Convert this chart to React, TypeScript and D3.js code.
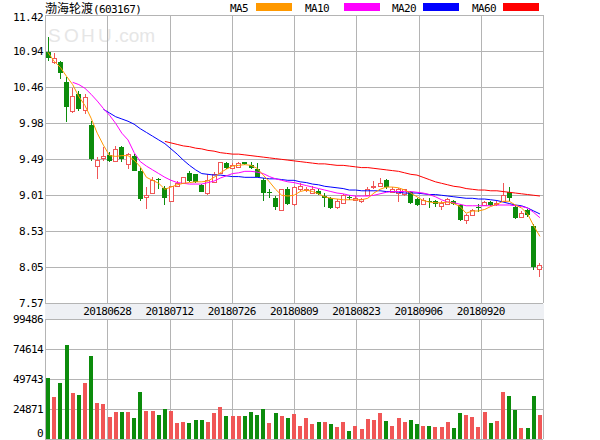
import React from 'react';
import * as d3 from 'd3';

const title = '渤海轮渡';
const code = '(603167)';
const priceTicks = ['11.42', '10.94', '10.46', '9.98', '9.49', '9.01', '8.53', '8.05', '7.57'];
const volTicks = ['99486', '74614', '49743', '24871', '0'];
const dateLabels = ['20180628', '20180712', '20180726', '20180809', '20180823', '20180906', '20180920'];
const maNames = ['MA5', 'MA10', 'MA20', 'MA60'];
const maColors = ['#ff9900', '#ff00ff', '#0000ff', '#ff0000'];

const open = [10.92, 10.79, 10.79, 10.52, 10.13, 10.36, 10.15, 9.95, 9.40, 9.51,
  9.55, 9.47, 9.66, 9.43, 9.54, 9.34, 8.99, 9.04, 9.23, 9.11,
  8.94, 9.13, 9.17, 9.31, 9.29, 9.15, 9.04, 9.19, 9.31, 9.44,
  9.37, 9.39, 9.45, 9.42, 9.36, 9.22, 9.06, 8.97, 8.81, 9.10,
  8.90, 9.09, 9.08, 9.04, 9.07, 9.00, 8.97, 8.85, 8.91, 8.99,
  8.95, 8.94, 9.01, 9.12, 9.13, 9.21, 9.06, 9.04, 9.03, 9.06,
  8.96, 8.90, 8.94, 8.93, 8.87, 8.90, 8.94, 8.88, 8.68, 8.75,
  8.86, 8.88, 8.92, 8.89, 8.94, 9.05, 8.86, 8.72, 8.81, 8.60, 8.02];
const high = [11.12, 10.91, 10.81, 10.59, 10.45, 10.40, 10.36, 10.00, 9.52, 9.66,
  9.59, 9.67, 9.67, 9.58, 9.56, 9.38, 9.12, 9.25, 9.24, 9.14,
  9.14, 9.20, 9.25, 9.33, 9.30, 9.16, 9.30, 9.32, 9.46, 9.46,
  9.44, 9.46, 9.46, 9.45, 9.44, 9.24, 9.10, 9.00, 9.10, 9.12,
  9.13, 9.17, 9.12, 9.13, 9.09, 9.04, 8.99, 8.96, 9.03, 9.02,
  9.00, 8.98, 9.12, 9.20, 9.24, 9.23, 9.12, 9.11, 9.10, 9.07,
  8.98, 8.97, 8.97, 8.95, 8.93, 8.98, 8.95, 8.89, 8.76, 8.82,
  8.89, 8.94, 8.94, 8.93, 9.17, 9.12, 8.88, 8.80, 8.83, 8.62, 8.11];
const low = [10.81, 10.76, 10.56, 9.99, 10.11, 10.14, 10.10, 9.47, 9.23, 9.47,
  9.45, 9.47, 9.45, 9.36, 9.33, 8.94, 8.82, 9.03, 9.10, 8.88,
  8.94, 9.12, 9.17, 9.19, 9.18, 9.05, 9.02, 9.18, 9.31, 9.36,
  9.36, 9.38, 9.42, 9.36, 9.25, 8.94, 8.97, 8.81, 8.80, 8.88,
  8.87, 9.07, 9.05, 9.03, 9.02, 8.85, 8.83, 8.83, 8.90, 8.95,
  8.93, 8.91, 9.00, 9.10, 9.12, 9.10, 9.05, 8.92, 9.00, 8.90,
  8.87, 8.88, 8.84, 8.85, 8.81, 8.89, 8.88, 8.66, 8.63, 8.74,
  8.79, 8.87, 8.87, 8.87, 8.92, 8.93, 8.69, 8.71, 8.72, 8.01, 7.92];
const close = [10.84, 10.84, 10.65, 10.19, 10.34, 10.16, 10.33, 9.49, 9.48, 9.53,
  9.47, 9.63, 9.49, 9.56, 9.34, 8.96, 9.02, 9.22, 9.21, 8.98,
  9.13, 9.18, 9.25, 9.20, 9.19, 9.06, 9.22, 9.30, 9.45, 9.37,
  9.42, 9.44, 9.43, 9.37, 9.26, 9.04, 9.04, 8.86, 9.09, 8.90,
  9.12, 9.13, 9.10, 9.10, 9.03, 8.98, 8.84, 8.94, 9.01, 8.97,
  8.97, 8.96, 9.10, 9.14, 9.18, 9.12, 9.10, 9.09, 9.09, 8.91,
  8.88, 8.95, 8.92, 8.90, 8.91, 8.96, 8.89, 8.68, 8.75, 8.81,
  8.84, 8.92, 8.88, 8.91, 9.01, 8.97, 8.70, 8.77, 8.75, 8.05, 8.08];
const volume = [50800, 35000, 46700, 77900, 38400, 36500, 46700, 68800, 30100, 29300,
  18000, 22400, 22400, 22400, 17600, 39200, 23200, 23200, 19900, 24900,
  23200, 13500, 14000, 13300, 15700, 15700, 14000, 21500, 26500, 19100,
  19100, 19100, 19100, 22400, 19900, 24900, 13000, 21500, 19100, 17700,
  20700, 10800, 17700, 12400, 14100, 14100, 12400, 10200, 14100, 6600,
  10800, 8600, 16600, 15700, 21500, 14900, 10800, 17400, 14100, 15700,
  12400, 10800, 10800, 9900, 9900, 14100, 9100, 21500, 19900, 18200,
  9900, 22400, 13300, 14900, 39000, 35600, 24000, 9100, 9100, 35600, 19900];
const volUp = [0, 1, 0, 0, 1, 0, 1, 0, 1, 1,
  1, 1, 0, 1, 0, 0, 1, 1, 0, 0,
  1, 1, 1, 0, 0, 0, 1, 1, 1, 0,
  1, 1, 0, 0, 0, 0, 1, 0, 1, 0,
  1, 1, 1, 1, 0, 1, 0, 1, 1, 0,
  1, 1, 1, 1, 1, 0, 1, 1, 1, 0,
  0, 1, 0, 1, 1, 1, 0, 0, 1, 1,
  1, 1, 0, 1, 1, 0, 0, 1, 0, 0, 1];
const ma5 = [10.92, 10.80, 10.72, 10.60, 10.49, 10.33, 10.21, 10.04, 9.84, 9.68,
  9.54, 9.53, 9.54, 9.54, 9.48, 9.39, 9.25, 9.21, 9.17, 9.09,
  9.12, 9.15, 9.17, 9.18, 9.19, 9.19, 9.20, 9.25, 9.31, 9.36,
  9.40, 9.41, 9.42, 9.41, 9.37, 9.28, 9.19, 9.09, 9.01, 9.00,
  9.01, 9.06, 9.08, 9.06, 9.03, 8.99, 8.97, 8.96, 8.95, 8.95,
  8.95, 8.95, 8.97, 9.04, 9.09, 9.12, 9.12, 9.11, 9.08, 9.04,
  8.99, 8.94, 8.92, 8.91, 8.91, 8.92, 8.90, 8.86, 8.77, 8.80,
  8.80, 8.82, 8.86, 8.89, 8.93, 8.93, 8.88, 8.84, 8.76, 8.60, 8.46];
const ma10 = [null, null, null, null, 10.52, 10.49, 10.44, 10.36, 10.27, 10.17,
  10.08, 9.97, 9.84, 9.75, 9.58, 9.46, 9.40, 9.35, 9.30, 9.25,
  9.21, 9.18, 9.17, 9.16, 9.16, 9.16, 9.18, 9.20, 9.24, 9.27,
  9.30, 9.31, 9.33, 9.33, 9.32, 9.30, 9.26, 9.23, 9.21, 9.19,
  9.18, 9.16, 9.14, 9.12, 9.10, 9.08, 9.06, 9.04, 9.03, 9.01,
  9.00, 9.00, 9.00, 9.01, 9.03, 9.05, 9.06, 9.06, 9.06, 9.06,
  9.05, 9.04, 9.02, 8.99, 8.95, 8.92, 8.91, 8.89, 8.87, 8.87,
  8.87, 8.87, 8.87, 8.88, 8.88, 8.88, 8.87, 8.86, 8.84, 8.78, 8.71];
const ma20 = [null, null, null, null, null, null, null, null, null, 10.16,
  10.11, 10.06, 10.03, 10.00, 9.96, 9.90, 9.85, 9.80, 9.75, 9.70,
  9.63, 9.56, 9.48, 9.41, 9.35, 9.30, 9.29, 9.28, 9.28, 9.27,
  9.26, 9.26, 9.25, 9.25, 9.25, 9.24, 9.23, 9.23, 9.22, 9.21,
  9.21, 9.19, 9.18, 9.16, 9.15, 9.13, 9.12, 9.11, 9.10, 9.08,
  9.08, 9.07, 9.07, 9.07, 9.07, 9.06, 9.06, 9.05, 9.04, 9.04,
  9.04, 9.03, 9.02, 9.02, 9.01, 9.00, 8.99, 8.98, 8.97, 8.97,
  8.96, 8.96, 8.95, 8.94, 8.92, 8.90, 8.88, 8.87, 8.84, 8.80, 8.76];
const ma60 = [null, null, null, null, null, null, null, null, null, null,
  null, null, null, null, null, null, null, null, null, 9.73,
  9.71, 9.69, 9.67, 9.66, 9.64, 9.63, 9.61, 9.60, 9.58, 9.57,
  9.56, 9.56, 9.55, 9.54, 9.53, 9.52, 9.51, 9.50, 9.49, 9.48,
  9.47, 9.46, 9.45, 9.44, 9.43, 9.43, 9.42, 9.41, 9.41, 9.40,
  9.39, 9.38, 9.38, 9.37, 9.36, 9.35, 9.34, 9.33, 9.31, 9.29,
  9.28, 9.25, 9.22, 9.19, 9.17, 9.15, 9.13, 9.12, 9.10, 9.09,
  9.08, 9.08, 9.07, 9.07, 9.06, 9.05, 9.04, 9.03, 9.02, 9.01, 9.00];

const RED = '#f05656';
const GREEN = '#0c8c0c';
const GRID = '#b4b4b4';
const MONO = '"DejaVu Sans Mono", "Liberation Mono", monospace';

export default function App() {
  const L = 45, R = 543, PT = 15, PB = 303, VT = 319, VB = 439;
  const n = close.length;
  const idx = d3.range(n);
  const xc = d3.scaleBand<number>().domain(idx).range([L, R]).paddingInner(0.2).paddingOuter(0.1);
  const xv = d3.scaleBand<number>().domain(idx).range([L, R]).paddingInner(0.35).paddingOuter(0.175);
  const cx = (i: number) => (xc(i) as number) + xc.bandwidth() / 2;
  const y = d3.scaleLinear().domain([7.57, 11.42]).range([PB, PT]);
  const yv = d3.scaleLinear().domain([0, 99486]).range([VB, VT]);
  const gx = d3.scaleLinear().domain([0, 8]).range([L, R]);
  const gy = d3.scaleLinear().domain([0, 8]).range([PT, PB]);
  const gv = d3.scaleLinear().domain([0, 4]).range([VT, VB]);
  const snap = (v: number) => Math.round(v) + 0.5;
  const mas = [ma5, ma10, ma20, ma60];

  const line = d3.line<number | null>()
    .defined((d) => d != null)
    .x((_, i) => cx(i))
    .y((d) => y(d as number));

  const wmLetters = ['S', 'O', 'H', 'U', '.com'];
  const wmX = [48, 64, 81, 98, 114];

  return (
    <svg width={600} height={440} style={{ position: 'absolute', left: 0, top: 0, background: '#fff' }}>
      <rect x={0} y={0} width={600} height={440} fill="#fff" />
      {/* title */}
      <text x={45} y={13} fontSize={12} fontFamily='"Noto Sans CJK SC", sans-serif' fill="#000">{title}<tspan fontFamily={MONO} fontSize={11} letterSpacing={-0.6}>{code}</tspan></text>
      {/* legend */}
      {maNames.map((m, k) => {
        const tx = [230, 305, 392, 472][k];
        const bx = [256, 344, 423, 503][k];
        return (
          <g key={m}>
            <text x={tx} y={12} fontSize={11} fontFamily={MONO} letterSpacing={-0.6} fill="#000">{m}</text>
            <rect x={bx} y={3} width={36} height={8} fill={maColors[k]} />
          </g>
        );
      })}
      {/* watermark */}
      <text y={42} fontSize={19} fontFamily='"Liberation Sans", sans-serif' fill="#e6e6e6">
        {wmLetters.map((c, k) => (
          <tspan key={k} x={wmX[k]}>{c}</tspan>
        ))}
      </text>
      {/* grid */}
      <g stroke={GRID} strokeWidth={1} shapeRendering="crispEdges">
        {d3.range(9).map((k) => (
          <line key={'h' + k} x1={L} x2={R} y1={snap(gy(k))} y2={snap(gy(k))} />
        ))}
        {d3.range(5).map((k) => (
          <line key={'v' + k} x1={L} x2={R} y1={snap(gv(k))} y2={snap(gv(k))} />
        ))}
        {d3.range(9).map((k) => (
          <g key={'g' + k}>
            <line x1={snap(gx(k))} x2={snap(gx(k))} y1={PT} y2={PB} />
            <line x1={snap(gx(k))} x2={snap(gx(k))} y1={VT} y2={VB} />
          </g>
        ))}
      </g>
      {/* date band */}
      <rect x={L} y={Math.round(PB) + 1} width={R - L + 1} height={VT - PB - 1} fill="#eef0f4" />
      {dateLabels.map((d, k) => (
        <text key={d} x={gx(k + 1)} y={315} textAnchor="middle" fontSize={11} fontFamily={MONO} letterSpacing={-0.6} fill="#000">{d}</text>
      ))}
      {/* price axis labels */}
      {priceTicks.map((t, k) => (
        <text key={t} x={43} y={Math.max(gy(k), 17) + 4} textAnchor="end" fontSize={11} fontFamily={MONO} letterSpacing={-0.6} fill="#000">{t}</text>
      ))}
      {volTicks.map((t, k) => (
        <text key={t} x={43} y={Math.min(gv(k), 433) + 4} textAnchor="end" fontSize={11} fontFamily={MONO} letterSpacing={-0.6} fill="#000">{t}</text>
      ))}
      {/* volume bars */}
      <g shapeRendering="crispEdges">
        {volume.map((v, i) => {
          const x0 = Math.round(xv(i) as number);
          const top = Math.round(yv(v));
          return <rect key={i} x={x0} y={top} width={Math.round(xv.bandwidth())} height={VB - top} fill={volUp[i] ? RED : GREEN} />;
        })}
      </g>
      {/* candles */}
      <g shapeRendering="crispEdges">
        {idx.map((i) => {
          const x0 = Math.round(xc(i) as number);
          const w = Math.round(xc.bandwidth());
          const wx = x0 + Math.floor(w / 2) + 0.5;
          const up = close[i] >= open[i];
          const yo = Math.round(y(open[i]));
          const yc = Math.round(y(close[i]));
          const yh = Math.round(y(high[i]));
          const yl = Math.round(y(low[i]));
          if (up) {
            const top = yc, bot = Math.max(yo, yc + 1);
            return (
              <g key={i} stroke={RED} strokeWidth={1}>
                <line x1={wx} x2={wx} y1={yh} y2={top} />
                <line x1={wx} x2={wx} y1={bot} y2={yl} />
                <rect x={x0 + 0.5} y={top + 0.5} width={w - 1} height={bot - top} fill="#fff" />
              </g>
            );
          }
          return (
            <g key={i}>
              <line x1={wx} x2={wx} y1={yh} y2={yl} stroke={GREEN} strokeWidth={1} />
              <rect x={x0} y={yo} width={w} height={Math.max(1, yc - yo)} fill={GREEN} />
            </g>
          );
        })}
      </g>
      {/* moving averages */}
      {mas.map((m, k) => (
        <path key={k} d={line(m as (number | null)[]) || ''} fill="none" stroke={maColors[k]} strokeWidth={1} />
      )).reverse()}
    </svg>
  );
}
